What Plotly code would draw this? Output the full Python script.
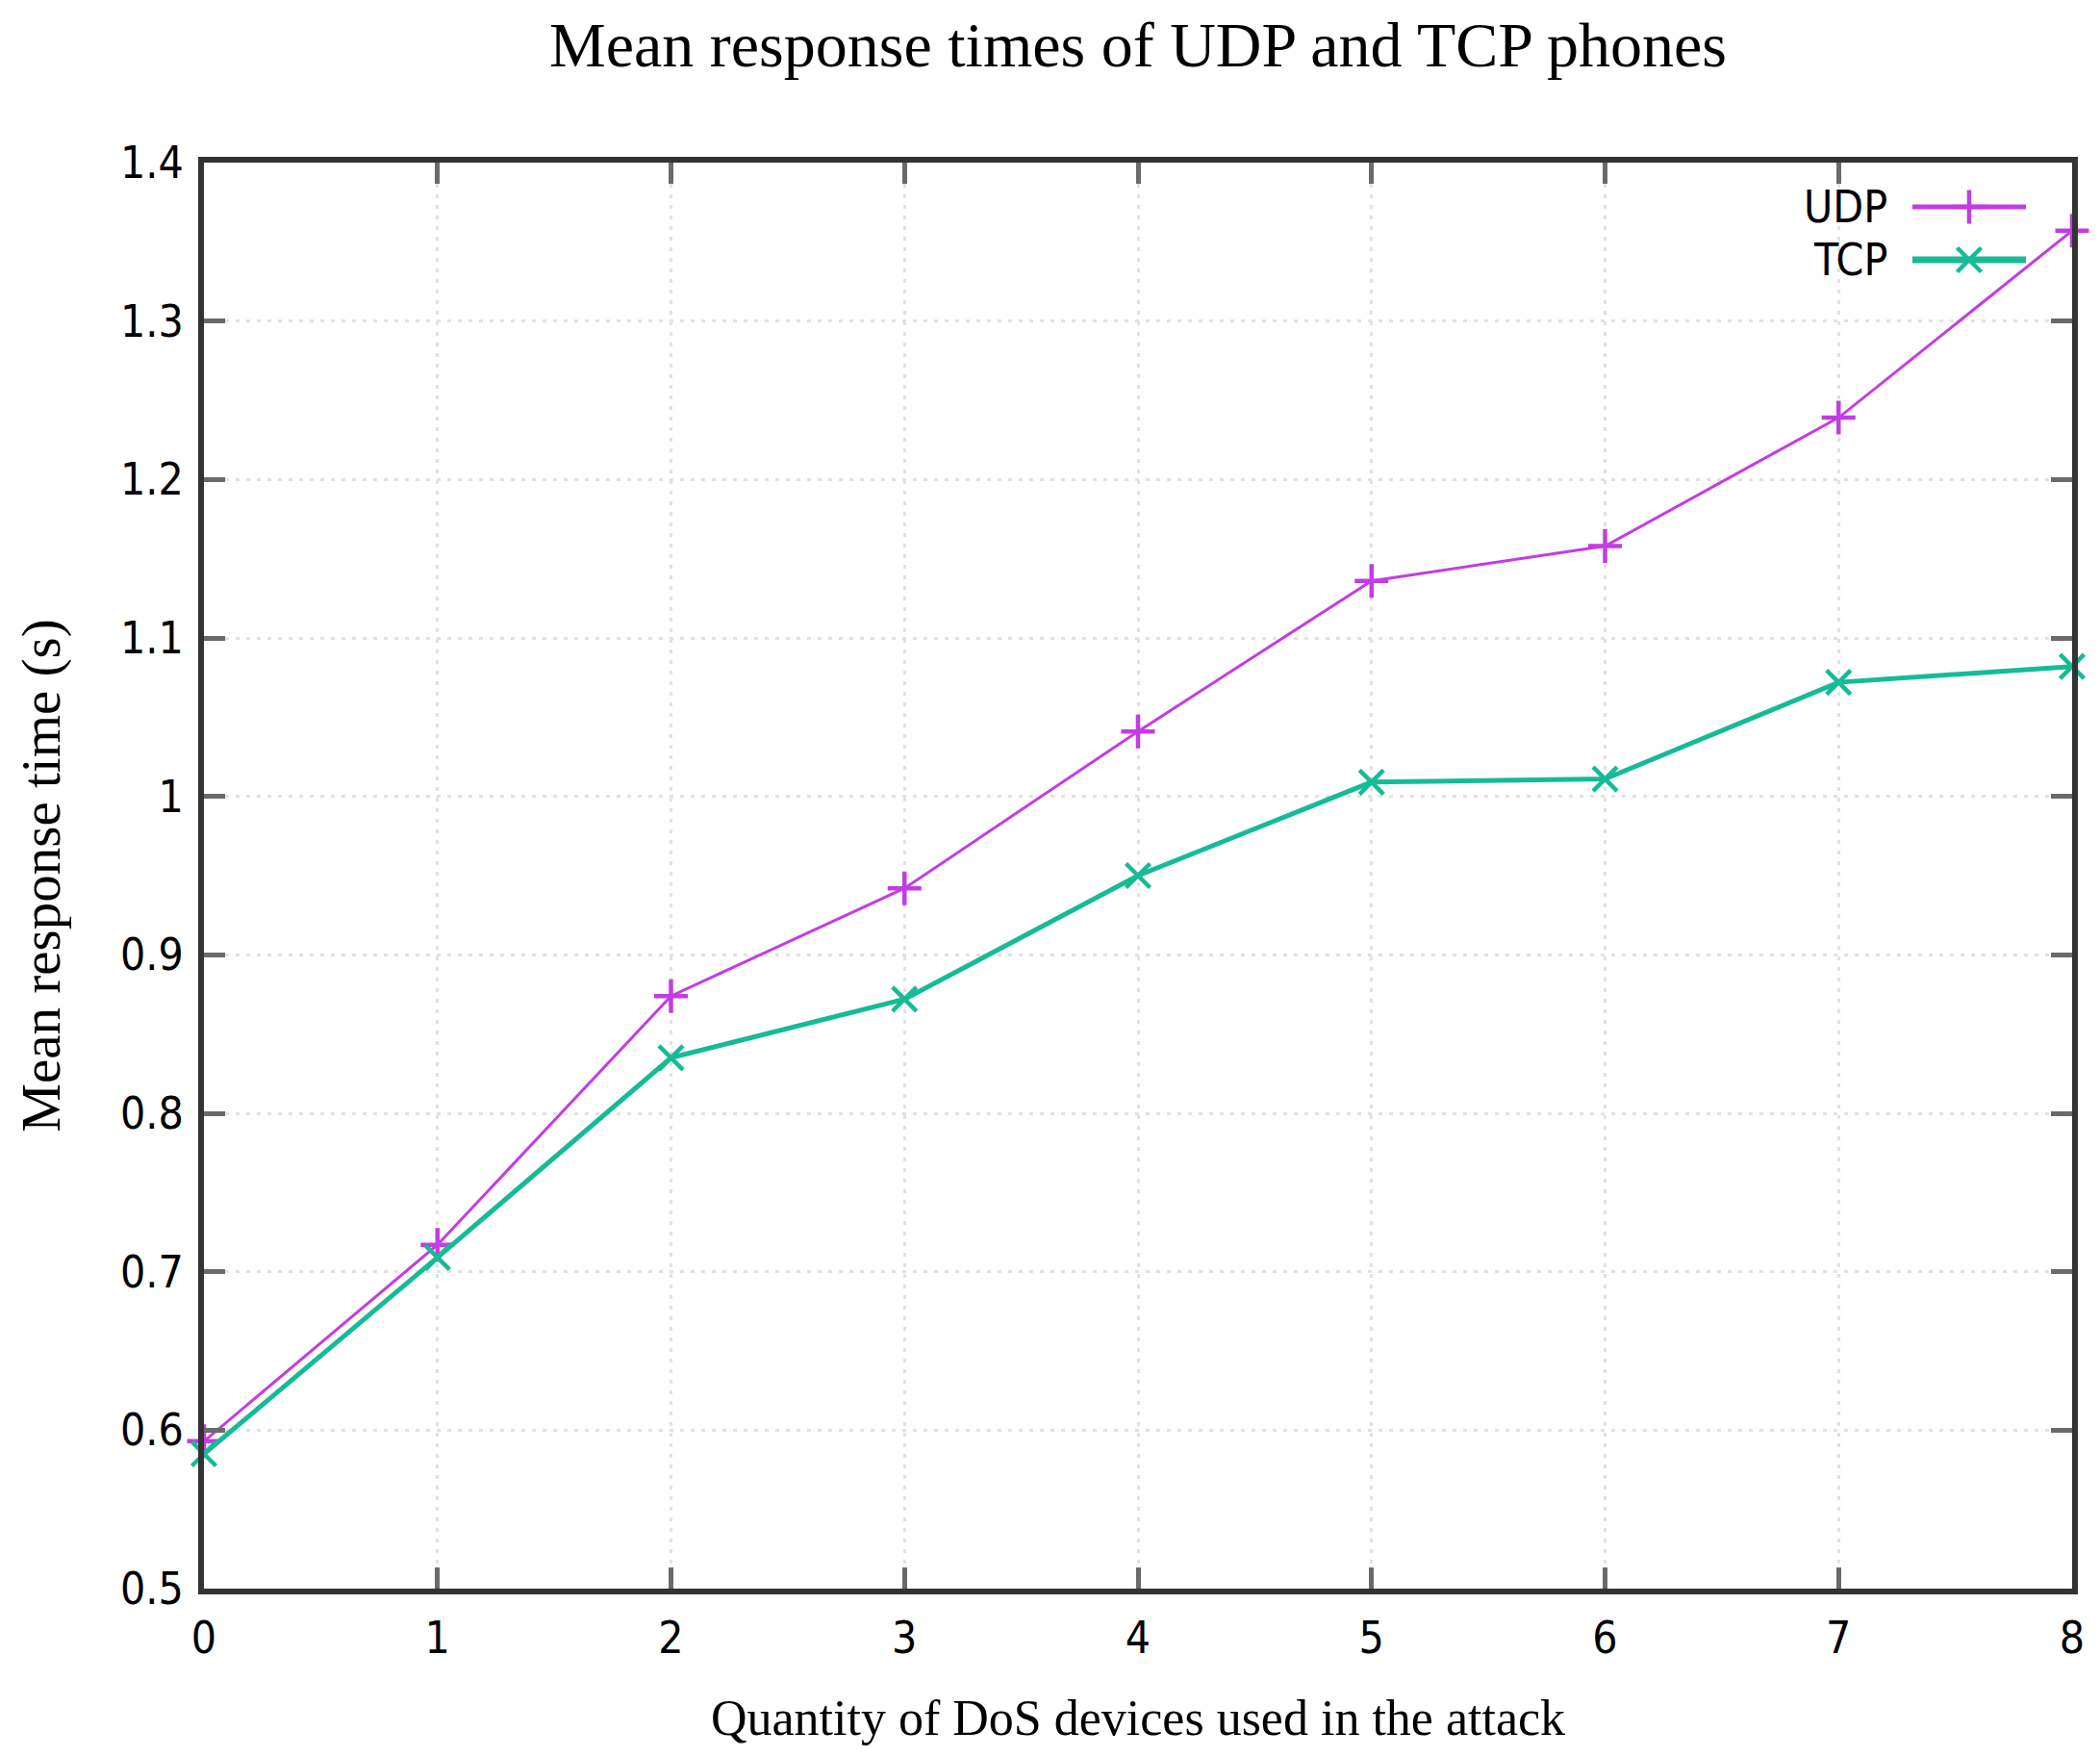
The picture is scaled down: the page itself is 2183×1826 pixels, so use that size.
import plotly.graph_objects as go

devices = [0, 1, 2, 3, 4, 5, 6, 7, 8]
udp_times = [0.593, 0.717, 0.874, 0.942, 1.041, 1.136, 1.158, 1.239, 1.357]
tcp_times = [0.585, 0.709, 0.835, 0.872, 0.950, 1.009, 1.011, 1.072, 1.082]
y_ticks = [0.5, 0.6, 0.7, 0.8, 0.9, 1.0, 1.1, 1.2, 1.3, 1.4]
y_tick_labels = ["0.5", "0.6", "0.7", "0.8", "0.9", "1", "1.1", "1.2", "1.3", "1.4"]
x_ticks = [0, 1, 2, 3, 4, 5, 6, 7, 8]
x_tick_labels = ["0", "1", "2", "3", "4", "5", "6", "7", "8"]
series_names = ["UDP", "TCP"]

UDP_COLOR = "#c23de2"
TCP_COLOR = "#16bb96"
SANS = "DejaVu Sans Condensed, Liberation Sans Narrow, DejaVu Sans, sans-serif"
SERIF = "Liberation Serif, Times New Roman, serif"

W, H = 2183, 1826
L, R, T, B = 204, 2146, 161, 1643
PW, PH = R - L, B - T

fig = go.Figure()
fig.add_trace(go.Scatter(
    x=devices, y=udp_times, name=series_names[0], mode="lines+markers",
    line=dict(color=UDP_COLOR, width=3),
    marker=dict(symbol="cross-thin", size=25, line=dict(color=UDP_COLOR, width=4.5)),
    cliponaxis=False, showlegend=False))
fig.add_trace(go.Scatter(
    x=devices, y=tcp_times, name=series_names[1], mode="lines+markers",
    line=dict(color=TCP_COLOR, width=5),
    marker=dict(symbol="x-thin", size=25, line=dict(color=TCP_COLOR, width=4.5)),
    cliponaxis=False, showlegend=False))

axis_common = dict(
    showline=True, linecolor="#333333", linewidth=6, mirror="ticks",
    ticks="inside", ticklen=22, tickwidth=5, tickcolor="#6a6a6a",
    showgrid=True, gridcolor="#e2e2e2", gridwidth=3, griddash="4px,7px",
    zeroline=False, tickfont=dict(family=SANS, size=46, color="#000000"),
    ticklabelstandoff=6,
)
fig.update_xaxes(range=[0, 8], tickvals=x_ticks, ticktext=x_tick_labels,
                 title=dict(text="Quantity of DoS devices used in the attack",
                            font=dict(family=SERIF, size=52, color="#000"), standoff=40),
                 **axis_common)
fig.update_yaxes(range=[0.5, 1.4], tickvals=y_ticks, ticktext=y_tick_labels,
                 title=dict(text="Mean response time (s)",
                            font=dict(family=SERIF, size=57, color="#000"), standoff=46),
                 **axis_common)

# gnuplot-style key (text left, sample right)
legend_rows = [((B - 207) / PH, UDP_COLOR, 3, "cross"), ((B - 262) / PH, TCP_COLOR, 5, "x")]
x0p, x1p = (1980 - L) / PW, (2098 - L) / PW
for (yp, col, w, kind), name in zip(legend_rows, series_names):
    fig.add_annotation(text=name, xref="paper", yref="paper", x=(1956 - L) / PW, y=yp,
                       xanchor="right", yanchor="middle", showarrow=False,
                       font=dict(family=SANS, size=46, color="#000"))
    fig.add_shape(type="line", xref="paper", yref="paper", x0=x0p, x1=x1p, y0=yp, y1=yp,
                  line=dict(color=col, width=w + 2))
    fig.add_trace(go.Scatter(x=[(x0p + x1p) / 2], y=[yp], xaxis="x2", yaxis="y2",
                             mode="markers", showlegend=False, hoverinfo="skip",
                             marker=dict(symbol=kind + "-thin", size=25,
                                         line=dict(color=col, width=4.5))))

fig.update_layout(
    width=W, height=H,
    margin=dict(l=L, r=W - R, t=T, b=H - B),
    paper_bgcolor="white", plot_bgcolor="white",
    title=dict(text="Mean response times of UDP and TCP phones", x=0.5, xref="paper",
               xanchor="center", y=1 - 38 / H, yanchor="middle",
               font=dict(family=SERIF, size=66, color="#000")),
    xaxis2=dict(overlaying="x", range=[0, 1], visible=False),
    yaxis2=dict(overlaying="y", range=[0, 1], visible=False),
    showlegend=False,
)
fig.write_html("out.html")
